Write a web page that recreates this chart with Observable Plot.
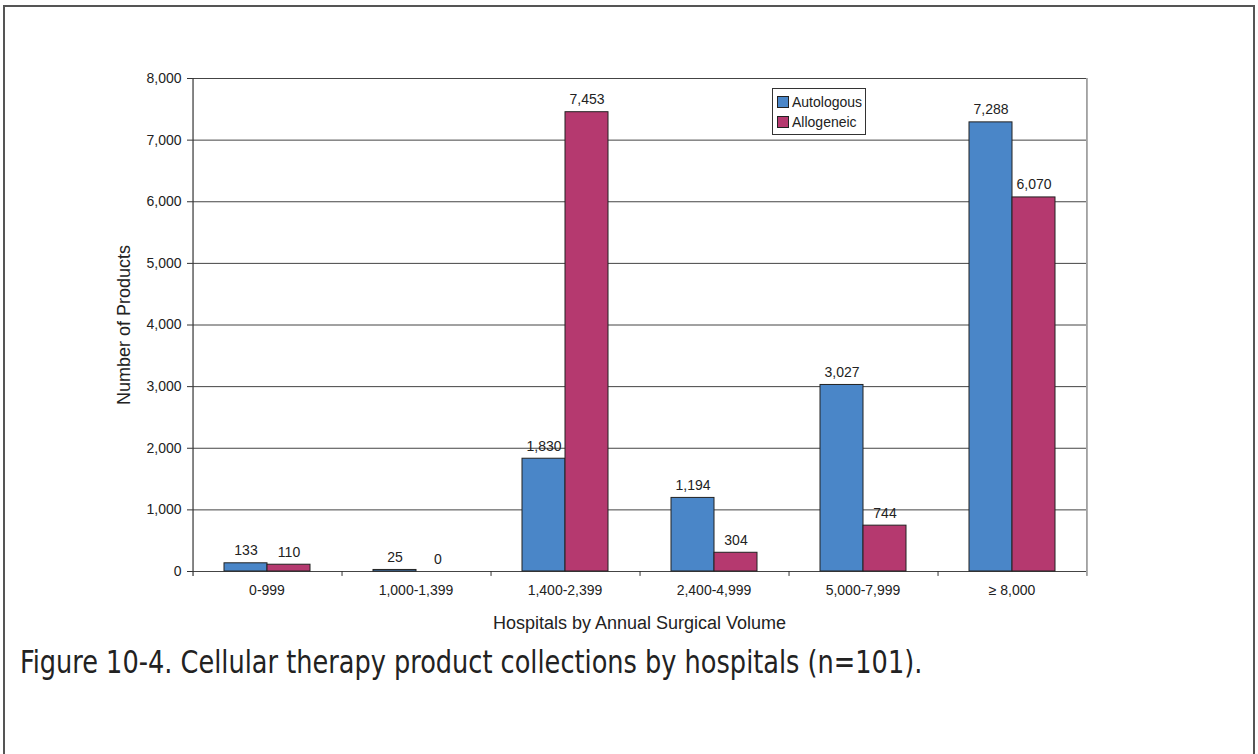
<!DOCTYPE html>
<html>
<head>
<meta charset="utf-8">
<script src="https://cdn.jsdelivr.net/npm/d3@7"></script>
<script src="https://cdn.jsdelivr.net/npm/@observablehq/plot@0.6"></script>
<style>
  html, body { margin: 0; padding: 0; background: #fff; }
  body { width: 1258px; height: 754px; position: relative; overflow: hidden; }
  #frame { position: absolute; left: 3px; top: 5px; width: 1252px; height: 800px; border: 2px solid #555; box-sizing: border-box; pointer-events: none; }
  #chart { position: absolute; left: 0; top: 0; }
  #legend { position: absolute; left: 772px; top: 88px; width: 94px; height: 47px; box-sizing: border-box; border: 1px solid #333; background: #fff;
            font-family: "Liberation Sans", Arial, sans-serif; font-size: 14px; color: #222; padding: 3px 0 0 4px; }
  #legend .row { display: flex; align-items: center; height: 20px; }
  #legend .sw { width: 10px; height: 10px; border: 1px solid #222; margin-right: 3px; }
  #caption { position: absolute; left: 20px; top: 643px; font-family: "Liberation Sans Narrow", "DejaVu Sans Condensed", sans-serif; font-stretch: condensed;
             font-size: 32px; color: #222; white-space: nowrap; transform: scaleX(0.89); transform-origin: 0 0; }
</style>
</head>
<body>
<div id="chart"></div>
<div id="legend"></div>
<div id="caption">Figure 10-4. Cellular therapy product collections by hospitals (n=101).</div>
<div id="frame"></div>
<script>
const categories = ["0-999", "1,000-1,399", "1,400-2,399", "2,400-4,999", "5,000-7,999", "\u2265 8,000"];
const series = ["Autologous", "Allogeneic"];
const autologous = [133, 25, 1830, 1194, 3027, 7288];
const allogeneic = [110, 0, 7453, 304, 744, 6070];
const yTicks = [0, 1000, 2000, 3000, 4000, 5000, 6000, 7000, 8000];
const colors = ["#4a86c8", "#b5396f"];

const data = categories.flatMap((c, i) => [
  {cat: c, series: series[0], value: autologous[i]},
  {cat: c, series: series[1], value: allogeneic[i]}
]);

const W = 1258, H = 640, mL = 192, mR = 172, mT = 78, mB = 69;
const po = 0.73;
const facetW = (W - mL - mR) / categories.length;
const step = facetW / (series.length + 2 * po);
const edge = po * step + step / 2; // distance from facet edge to first band center
const fmt = d3.format(",");

const chart = Plot.plot({
  width: W, height: H,
  marginTop: mT, marginLeft: mL, marginRight: mR, marginBottom: mB,
  style: {fontFamily: "'Liberation Sans', Arial, sans-serif", fontSize: "14px", color: "#222", background: "transparent"},
  fx: {domain: categories, padding: 0, label: null},
  x: {domain: series, paddingInner: 0, paddingOuter: po, axis: null},
  y: {domain: [0, 8000], axis: null},
  color: {domain: series, range: colors},
  marks: [
    Plot.ruleY(yTicks, {stroke: "#444", strokeWidth: 1}),
    Plot.barY(data, {fx: "cat", x: "series", y: "value", fill: "series", stroke: "#222", strokeWidth: 1}),
    Plot.text(data, {fx: "cat", x: "series", y: "value", text: d => fmt(d.value), lineAnchor: "bottom", dy: -8, fontSize: 14, fill: "#222"}),
    // y axis line (leftmost facet)
    Plot.ruleX([categories[0]], {fx: d => d, x: () => series[0], dx: -edge, y1: -80, y2: 8000, stroke: "#333", strokeWidth: 1.2}),
    // right frame line (rightmost facet)
    Plot.ruleX([categories[categories.length - 1]], {fx: d => d, x: () => series[1], dx: edge, y1: -80, y2: 8000, stroke: "#555", strokeWidth: 1}),
    // category boundary ticks
    Plot.ruleX(categories.slice(1), {fx: d => d, x: () => series[0], dx: -edge, y1: -80, y2: 0, stroke: "#333", strokeWidth: 1}),
    // tick labels
    Plot.axisY(yTicks, {tickFormat: fmt, tickSize: 5, tickPadding: 6, fontSize: 14, stroke: "#333", label: null}),
    Plot.axisFx({anchor: "bottom", tickSize: 0, tickPadding: 14, fontSize: 14, label: null}),
    // axis titles (larger font)
    Plot.axisY(yTicks, {tickSize: 0, tickFormat: () => "", fontSize: 18,
      label: "Number of Products", labelAnchor: "center", labelArrow: "none", labelOffset: 75}),
    Plot.axisFx({anchor: "bottom", tickSize: 0, tickFormat: () => "", fontSize: 18, dx: -7,
      label: "Hospitals by Annual Surgical Volume", labelAnchor: "center", labelArrow: "none", labelOffset: 57})
  ]
});
document.getElementById("chart").appendChild(chart);

const legend = document.getElementById("legend");
series.forEach((s, i) => {
  const row = document.createElement("div");
  row.className = "row";
  const sw = document.createElement("span");
  sw.className = "sw";
  sw.style.background = colors[i];
  const t = document.createElement("span");
  t.textContent = s;
  row.appendChild(sw); row.appendChild(t);
  legend.appendChild(row);
});
</script>
</body>
</html>
